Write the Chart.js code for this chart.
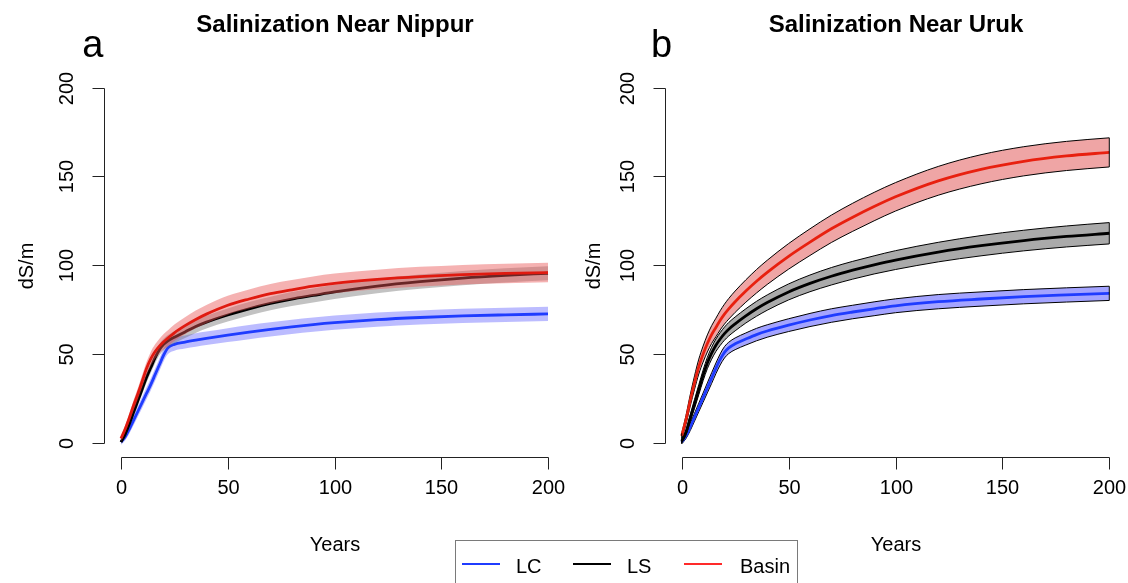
<!DOCTYPE html>
<html>
<head>
<meta charset="utf-8">
<script src="https://cdn.jsdelivr.net/npm/chart.js@4.4.1/dist/chart.umd.min.js"></script>
<style>
  html, body { margin: 0; padding: 0; background: #fff; }
  #wrap { position: relative; width: 1128px; height: 583px; overflow: hidden;
          font-family: "Liberation Sans", Arial, sans-serif; }
  #wrap canvas { position: absolute; top: 0; }
  #cA { left: 0; }
  #cB { left: 440px; }
  #legend { position: absolute; left: 455px; top: 540px; width: 343px; height: 60px;
            border: 1px solid #7a7a7a; box-sizing: border-box; background: transparent; }
  #legend .sw { position: absolute; top: 22px; width: 38px; height: 1.5px; }
  #legend .tx { position: absolute; top: 15px; font-size: 20px; line-height: 20px; color: #000; }
</style>
</head>
<body>
<div id="wrap">
  <canvas id="cA" width="600" height="583"></canvas>
  <canvas id="cB" width="688" height="583"></canvas>
  <div id="legend">
    <span class="sw" style="left:6px;background:#1f3cff"></span><span class="tx" style="left:60px">LC</span>
    <span class="sw" style="left:117px;background:#000"></span><span class="tx" style="left:171px">LS</span>
    <span class="sw" style="left:228px;background:#ff2a2a"></span><span class="tx" style="left:284px">Basin</span>
  </div>
</div>
<script>
// Simulation years (x values shared by every series)
const years = [0,2,4,6,8,10,12,14,16,18,20,22,25,30,35,40,50,60,70,80,90,100,120,140,160,180,200];
const tickVals = [0,50,100,150,200];

// Near Nippur: mean soil salinity (dS/m) and half-width of the uncertainty band
const nippurLC        = [0.5,3.5,8,13,18,23,28,33,38.5,44,49.5,53.5,55.5,56.8,57.9,58.9,60.7,62.4,63.9,65.3,66.6,67.7,69.4,70.6,71.5,72.1,72.6];
const nippurLCspread  = [1.5,2,2.5,2.8,3,3.2,3.3,3.4,3.5,3.5,3.5,3.5,3.6,3.7,3.8,3.8,3.9,4,4,4,4,4,4,4,4,4,4];
const nippurLS        = [0.5,5,11,17.5,24,30.5,37,42.5,48,52.5,55.5,57.5,59.5,62.5,65.5,68,72,75.5,78.5,81,83,85,88.3,90.8,92.8,94.3,95.5];
const nippurLSspread  = [1,1.5,2,2.3,2.6,2.8,3,3,3.1,3.2,3.3,3.3,3.4,3.5,3.6,3.6,3.7,3.8,3.8,3.9,3.9,4,4,4,4,4,4];
const nippurBasin     = [2.5,8,14.5,21.5,28,35,42,47.5,51.5,54.5,57,59,62,66,69.5,72.5,77.5,81,84,86.2,88.2,89.8,92,93.6,94.7,95.4,95.9];
const nippurBasinSpread = [1.5,2,2.5,3,3.2,3.5,3.7,3.9,4,4.2,4.3,4.4,4.6,4.8,5,5.1,5.3,5.4,5.5,5.5,5.5,5.5,5.5,5.5,5.5,5.5,5.5];

// Near Uruk
const urukLC          = [0.5,4,9,14.5,20,25.5,31,36.5,42,47,51,53.5,55.8,58.5,61,63,66.3,69.2,71.7,73.7,75.5,77.2,79.5,81,82.3,83.3,84.2];
const urukLCspread    = [1,1.5,2,2.2,2.4,2.6,2.8,3,3,3.1,3.2,3.2,3.3,3.4,3.5,3.5,3.6,3.7,3.8,3.8,3.9,3.9,4,4,4,4,4];
const urukLS          = [1,6,14,22,30,38,45,50.5,55,58.5,61.5,64,67,71.5,75.5,79,85,89.8,93.8,97.2,100.2,102.9,107.4,111,113.9,116.2,118];
const urukLSspread    = [1,1.5,2,2.5,2.8,3,3.2,3.4,3.5,3.6,3.7,3.8,3.9,4,4.2,4.3,4.5,4.7,4.9,5,5.1,5.3,5.5,5.7,5.8,5.9,6];
const urukBasin       = [4,13,24,34,43,50,56,61,65,69,72.5,75.5,79.5,85.5,91,96,105,113,120.5,127,133,138.5,147.5,154,158.5,161.5,163.5];
const urukBasinSpread = [1.5,2.5,3.2,3.8,4.2,4.5,4.8,5,5.2,5.4,5.6,5.8,6,6.3,6.6,6.8,7.2,7.5,7.7,7.9,8,8,8.1,8.2,8.2,8.2,8.2];

const FONT = '"Liberation Sans", Arial, sans-serif';

// One series = lower edge, upper edge (filled down to the lower edge) and the mean line
function series(mean, spread, lineColor, fillColor, edgeColor, edgeWidth, baseOrder) {
  const pts = f => years.map((t, i) => ({ x: t, y: f(i) }));
  const common = { pointRadius: 0, cubicInterpolationMode: 'monotone' };
  return [
    Object.assign({ data: pts(i => mean[i] - spread[i]), borderColor: edgeColor, borderWidth: edgeWidth,
                    fill: false, order: baseOrder + 1, bandEdge: true }, common),
    Object.assign({ data: pts(i => mean[i] + spread[i]), borderColor: edgeColor, borderWidth: edgeWidth,
                    backgroundColor: fillColor, fill: '-1', order: baseOrder + 1, bandEdge: true }, common),
    Object.assign({ data: pts(i => mean[i]), borderColor: lineColor, borderWidth: 2.8,
                    fill: false, order: baseOrder }, common)
  ];
}

// Base-graphics style axes: line spans first..last tick, outward ticks, rotated y labels
const rAxes = {
  id: 'rAxes',
  afterDatasetsDraw(chart, args, opts) {
    if (!opts.closeBands) return;
    const { ctx, scales: { x, y } } = chart;
    ctx.save();
    ctx.strokeStyle = '#000';
    ctx.lineWidth = 1;
    chart.data.datasets.forEach((ds, i) => {
      if (!ds.bandEdge || ds.fill !== '-1') return;
      const lo = chart.data.datasets[i - 1].data, hi = ds.data;
      [0, hi.length - 1].forEach(k => {
        const px = x.getPixelForValue(hi[k].x);
        ctx.beginPath();
        ctx.moveTo(px, y.getPixelForValue(lo[k].y));
        ctx.lineTo(px, y.getPixelForValue(hi[k].y));
        ctx.stroke();
      });
    });
    ctx.restore();
  },
  afterDraw(chart, args, opts) {
    const { ctx, scales: { x, y }, chartArea: a } = chart;
    ctx.save();
    ctx.strokeStyle = '#222';
    ctx.lineWidth = 1;
    const yb = Math.round(a.bottom) + 0.5;
    const xl = Math.round(a.left) + 0.5;
    const xs = tickVals.map(v => Math.round(x.getPixelForValue(v)) + 0.5);
    const ys = tickVals.map(v => Math.round(y.getPixelForValue(v)) + 0.5);
    ctx.beginPath();
    ctx.moveTo(xs[0], yb); ctx.lineTo(xs[xs.length - 1], yb);
    xs.forEach(px => { ctx.moveTo(px, yb); ctx.lineTo(px, yb + 12); });
    ctx.moveTo(xl, ys[0]); ctx.lineTo(xl, ys[ys.length - 1]);
    ys.forEach(py => { ctx.moveTo(xl, py); ctx.lineTo(xl - 12, py); });
    ctx.stroke();

    ctx.fillStyle = '#000';
    ctx.font = '20px ' + FONT;
    ctx.textAlign = 'center';
    ctx.textBaseline = 'middle';
    tickVals.forEach((v, i) => ctx.fillText(String(v), xs[i], a.bottom + 31));
    tickVals.forEach((v, i) => {
      ctx.save();
      ctx.translate(a.left - 36, ys[i]);
      ctx.rotate(-Math.PI / 2);
      ctx.fillText(String(v), 0, 0);
      ctx.restore();
    });
    const cx = (xs[0] + xs[xs.length - 1]) / 2;
    const cy = (ys[0] + ys[ys.length - 1]) / 2;
    ctx.fillText(opts.xTitle, cx, a.bottom + 88);
    ctx.save();
    ctx.translate(a.left + opts.yTitleDx, cy);
    ctx.rotate(-Math.PI / 2);
    ctx.fillText(opts.yTitle, 0, 0);
    ctx.restore();

    ctx.font = 'bold 24px ' + FONT;
    ctx.textBaseline = 'alphabetic';
    ctx.fillText(opts.title, cx, 32);

    ctx.font = '38px ' + FONT;
    ctx.fillText(opts.letter, a.left + opts.letterDx, 57);
    ctx.restore();
  }
};

function makeChart(id, pad, datasets, axOpts) {
  return new Chart(document.getElementById(id), {
    type: 'line',
    data: { datasets },
    plugins: [rAxes],
    options: {
      responsive: false,
      animation: false,
      events: [],
      layout: { padding: pad },
      scales: {
        x: { type: 'linear', min: -8, max: 208, display: false },
        y: { type: 'linear', min: -8, max: 208, display: false }
      },
      plugins: {
        legend: { display: false },
        tooltip: { enabled: false },
        rAxes: axOpts
      }
    }
  });
}

// Panel a: translucent bands without outlines
makeChart('cA', { left: 103.9, right: 34.9, top: 73.3, bottom: 125.8 }, [
  ...series(nippurLC, nippurLCspread, '#1f3cff', 'rgba(95,95,255,0.42)', 'rgba(0,0,0,0)', 0, 50),
  ...series(nippurLS, nippurLSspread, '#000000', 'rgba(110,110,110,0.42)', 'rgba(0,0,0,0)', 0, 30),
  ...series(nippurBasin, nippurBasinSpread, '#e01a10', 'rgba(232,85,85,0.45)', 'rgba(0,0,0,0)', 0, 10)
], { title: 'Salinization Near Nippur', letter: 'a', letterDx: -11, xTitle: 'Years', yTitle: 'dS/m', yTitleDx: -76, closeBands: false });

// Panel b: opaque bands outlined in black
makeChart('cB', { left: 224.6, right: 1.6, top: 73.3, bottom: 125.8 }, [
  ...series(urukLC, urukLCspread, '#1f3cff', '#a4a4ff', '#000', 1, 50),
  ...series(urukLS, urukLSspread, '#000000', '#aaaaaa', '#000', 1, 30),
  ...series(urukBasin, urukBasinSpread, '#e8200f', '#efa5a5', '#000', 1, 10)
], { title: 'Salinization Near Uruk', letter: 'b', letterDx: -3, xTitle: 'Years', yTitle: 'dS/m', yTitleDx: -70, closeBands: true });
</script>
</body>
</html>
